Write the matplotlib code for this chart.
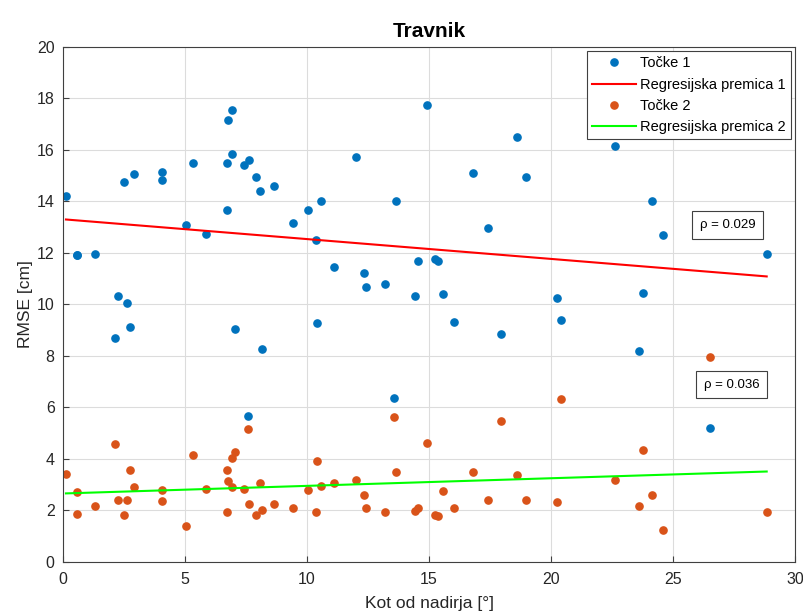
import matplotlib
matplotlib.use("Agg")
import matplotlib.pyplot as plt
import numpy as np

plt.rcParams['font.family'] = ['Liberation Sans', 'DejaVu Sans']

angle = [0.12, 0.56, 0.59, 1.33, 2.13, 2.27, 2.49, 2.61, 2.75, 2.92,
         4.04, 4.07, 5.04, 5.33, 5.85, 6.73, 6.74, 6.77, 6.94, 6.94,
         7.05, 7.43, 7.60, 7.62, 7.91, 8.09, 8.14, 8.65, 9.41, 10.06,
         10.37, 10.40, 10.57, 11.09, 12.01, 12.35, 12.41, 13.21, 13.55, 13.63,
         14.41, 14.54, 14.93, 15.26, 15.36, 15.57, 16.04, 16.82, 17.43, 17.95,
         18.59, 18.98, 20.26, 20.43, 22.64, 23.61, 23.76, 24.15, 24.58, 26.52,
         28.84]
rmse1 = [14.20, 11.91, 11.93, 11.97, 8.69, 10.34, 14.74, 10.04, 9.11, 15.06,
         15.15, 14.82, 13.08, 15.51, 12.73, 15.51, 13.68, 17.18, 17.56, 15.84,
         9.03, 15.42, 5.68, 15.60, 14.94, 14.41, 8.29, 14.62, 13.16, 13.68,
         12.50, 9.28, 14.00, 11.44, 15.72, 11.23, 10.66, 10.78, 6.38, 14.00,
         10.34, 11.68, 17.73, 11.77, 11.68, 10.42, 9.31, 15.10, 12.98, 8.86,
         16.50, 14.94, 10.26, 9.39, 16.14, 8.21, 10.45, 14.00, 12.69, 5.20,
         11.95]
rmse2 = [3.40, 2.73, 1.88, 2.17, 4.59, 2.41, 1.84, 2.41, 3.59, 2.90,
         2.78, 2.36, 1.39, 4.14, 2.82, 1.93, 3.59, 3.14, 4.05, 2.90,
         4.29, 2.85, 5.18, 2.26, 1.83, 3.08, 2.01, 2.26, 2.08, 2.79,
         1.96, 3.91, 2.94, 3.06, 3.19, 2.62, 2.08, 1.96, 5.64, 3.51,
         1.99, 2.08, 4.61, 1.84, 1.78, 2.74, 2.08, 3.48, 2.41, 5.47,
         3.36, 2.41, 2.32, 6.34, 3.19, 2.17, 4.33, 2.62, 1.24, 7.95,
         1.96]

# regression line coefficients (slope, intercept)
reg1 = (-0.0770, 13.31)
reg2 = (0.0296, 2.66)
rho_labels = ["ρ = 0.029", "ρ = 0.036"]

blue = '#0072BD'
orange = '#D95319'
axcol = '#404040'

fig = plt.figure(figsize=(8.04, 6.15), dpi=100)
ax = fig.add_axes([0.0784, 0.0862, 0.9104, 0.8374])

x = np.array(angle)
xl = np.array([x.min(), x.max()])

ax.plot(x, rmse1, 'o', color=blue, markersize=5.2, label='Točke 1')
ax.plot(xl, reg1[0] * xl + reg1[1], '-', color='#FF0000', lw=1.5, label='Regresijska premica 1')
ax.plot(x, rmse2, 'o', color=orange, markersize=5.2, label='Točke 2')
ax.plot(xl, reg2[0] * xl + reg2[1], '-', color='#00FF00', lw=1.5, label='Regresijska premica 2')

ax.set_xlim(0, 30)
ax.set_ylim(0, 20)
ax.set_xticks(np.arange(0, 31, 5))
ax.set_yticks(np.arange(0, 21, 2))
ax.grid(True, color='#dcdcdc', lw=0.8)
ax.set_axisbelow(True)
ax.tick_params(direction='in', labelsize=11.5, colors=axcol, labelcolor='#262626', length=4)
ax.tick_params(axis='x', pad=7)
ax.tick_params(axis='y', pad=6)
for s in ax.spines.values():
    s.set_color(axcol)
    s.set_linewidth(0.8)

ax.set_xlabel('Kot od nadirja [°]', fontsize=12.5, color='#262626', labelpad=7)
ax.set_ylabel('RMSE [cm]', fontsize=12.5, color='#262626', labelpad=3)
ax.set_title('Travnik', fontsize=15, fontweight='bold', pad=7)

leg = ax.legend(loc='upper right', fontsize=10.5, frameon=True, fancybox=False,
                edgecolor=axcol, framealpha=1, borderaxespad=0.3,
                handlelength=3.0, handletextpad=0.3, labelspacing=0.5, borderpad=0.35)
leg.get_frame().set_linewidth(0.8)

bbox = dict(boxstyle='square,pad=0.6', fc='white', ec=axcol, lw=0.8)
ax.text(27.24, 13.1, rho_labels[0], ha='center', va='center', fontsize=9.5, bbox=bbox)
ax.text(27.4, 6.89, rho_labels[1], ha='center', va='center', fontsize=9.5, bbox=bbox)

fig.savefig('out.png', dpi=100)
